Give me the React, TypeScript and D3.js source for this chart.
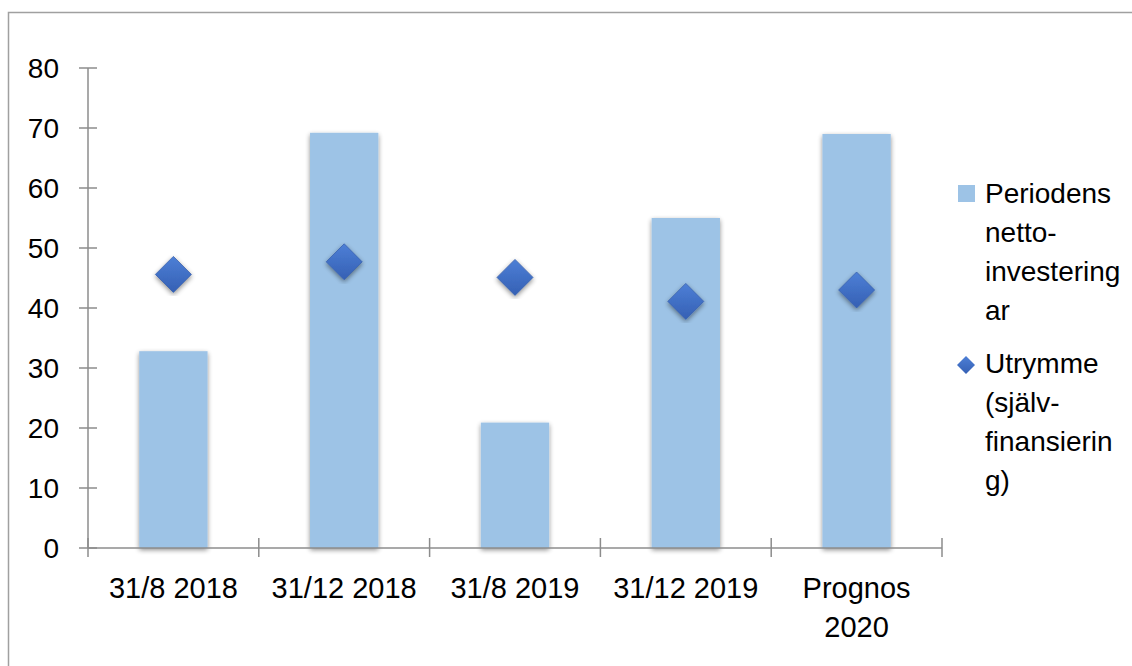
import React, { useRef, useEffect } from 'react';
import * as d3 from 'd3';

const categories = ['31/8 2018', '31/12 2018', '31/8 2019', '31/12 2019', 'Prognos 2020'];
const categoryLines = [['31/8 2018'], ['31/12 2018'], ['31/8 2019'], ['31/12 2019'], ['Prognos', '2020']];
const nettoInvesteringar = [32.8, 69.2, 20.9, 55.0, 69.0];
const utrymme = [45.6, 47.7, 45.1, 41.1, 43.0];
const yTicks = [0, 10, 20, 30, 40, 50, 60, 70, 80];
const legendBar = ['Periodens', 'netto-', 'investering', 'ar'];
const legendDiamond = ['Utrymme', '(själv-', 'finansierin', 'g)'];

const W = 1132;
const H = 666;
const FONT = '"Liberation Sans", Arial, sans-serif';

const App = () => {
    const ref = useRef<SVGSVGElement>(null);

    useEffect(() => {
        const svg = d3.select(ref.current);
        svg.selectAll('*').remove();

        const plot = { left: 88, right: 942, top: 68, bottom: 548 };
        const x = d3.scaleBand().domain(categories).range([plot.left, plot.right]).paddingInner(0.6).paddingOuter(0.3);
        const y = d3.scaleLinear().domain([0, 80]).range([plot.bottom, plot.top]);

        const defs = svg.append('defs');
        const shadow = defs.append('filter').attr('id', 'barShadow')
            .attr('x', '-20%').attr('y', '-10%').attr('width', '140%').attr('height', '120%');
        shadow.append('feGaussianBlur').attr('in', 'SourceAlpha').attr('stdDeviation', 2.5);
        shadow.append('feOffset').attr('dx', 0).attr('dy', 2).attr('result', 'ob');
        shadow.append('feComponentTransfer').append('feFuncA').attr('type', 'linear').attr('slope', 0.45);
        const merge = shadow.append('feMerge');
        merge.append('feMergeNode');
        merge.append('feMergeNode').attr('in', 'SourceGraphic');

        const grad = defs.append('linearGradient').attr('id', 'diamondGrad').attr('x1', 0).attr('y1', 0).attr('x2', 0).attr('y2', 1);
        grad.append('stop').attr('offset', '0%').attr('stop-color', '#4d7fd6');
        grad.append('stop').attr('offset', '100%').attr('stop-color', '#3560b4');

        // frame
        svg.append('rect')
            .attr('x', 8.5).attr('y', 12.5).attr('width', W).attr('height', H)
            .attr('fill', 'none').attr('stroke', '#a0a0a0').attr('stroke-width', 1.5);

        // bars
        svg.append('g').selectAll('rect')
            .data(nettoInvesteringar)
            .enter().append('rect')
            .attr('x', (d, i) => x(categories[i]) as number)
            .attr('width', x.bandwidth())
            .attr('y', d => y(d))
            .attr('height', d => y(0) - y(d))
            .attr('fill', '#9dc3e6')
            .attr('filter', 'url(#barShadow)');

        // axes
        const axisColor = '#8c8c8c';
        const ax = svg.append('g');
        ax.append('line').attr('x1', plot.left).attr('x2', plot.left).attr('y1', y(80)).attr('y2', y(0))
            .attr('stroke', axisColor).attr('stroke-width', 1.5);
        ax.append('line').attr('x1', plot.left).attr('x2', plot.right).attr('y1', y(0)).attr('y2', y(0))
            .attr('stroke', axisColor).attr('stroke-width', 1.5);
        ax.selectAll('.ytick').data(yTicks).enter().append('line')
            .attr('x1', plot.left - 9).attr('x2', plot.left + 9)
            .attr('y1', d => y(d)).attr('y2', d => y(d))
            .attr('stroke', axisColor).attr('stroke-width', 1.5);
        const step = x.step();
        const bounds = d3.range(categories.length + 1).map(i => plot.left + i * step);
        ax.selectAll('.xtick').data(bounds).enter().append('line')
            .attr('x1', d => d).attr('x2', d => d)
            .attr('y1', y(0) - 10).attr('y2', y(0) + 9)
            .attr('stroke', axisColor).attr('stroke-width', 1.5);

        // y labels
        svg.append('g').selectAll('text').data(yTicks).enter().append('text')
            .attr('x', 59).attr('y', d => y(d))
            .attr('dy', '0.36em')
            .attr('text-anchor', 'end')
            .style('font-family', FONT).style('font-size', '28px').attr('fill', '#000')
            .text(d => d);

        // x labels
        const xl = svg.append('g');
        categoryLines.forEach((lines, i) => {
            const cx = (x(categories[i]) as number) + x.bandwidth() / 2;
            lines.forEach((ln, j) => {
                xl.append('text')
                    .attr('x', cx).attr('y', 598 + j * 39)
                    .attr('text-anchor', 'middle')
                    .style('font-family', FONT).style('font-size', '29px').attr('fill', '#000')
                    .text(ln);
            });
        });

        // diamonds
        const dsize = 18;
        const diamond = (cx, cy, s) => `M${cx},${cy - s}L${cx + s},${cy}L${cx},${cy + s}L${cx - s},${cy}Z`;
        svg.append('g').selectAll('path').data(utrymme).enter().append('path')
            .attr('d', (d, i) => diamond((x(categories[i]) as number) + x.bandwidth() / 2, y(d), dsize))
            .attr('fill', 'url(#diamondGrad)')
            .attr('stroke', '#3a62ad').attr('stroke-width', 0.8)
            .attr('filter', 'url(#barShadow)');

        // legend
        const lg = svg.append('g');
        lg.append('rect').attr('x', 958).attr('y', 185).attr('width', 17).attr('height', 17).attr('fill', '#9dc3e6');
        legendBar.forEach((t, j) => {
            lg.append('text').attr('x', 985).attr('y', 203 + j * 39)
                .style('font-family', FONT).style('font-size', '28px').attr('fill', '#000').text(t);
        });
        lg.append('path').attr('d', diamond(966, 365, 9)).attr('fill', 'url(#diamondGrad)');
        legendDiamond.forEach((t, j) => {
            lg.append('text').attr('x', 985).attr('y', 373 + j * 39)
                .style('font-family', FONT).style('font-size', '28px').attr('fill', '#000').text(t);
        });
    }, []);

    return (
        <svg ref={ref} width={W} height={H} style={{ position: 'absolute', left: 0, top: 0, background: '#fff' }}></svg>
    );
};

export default App;
